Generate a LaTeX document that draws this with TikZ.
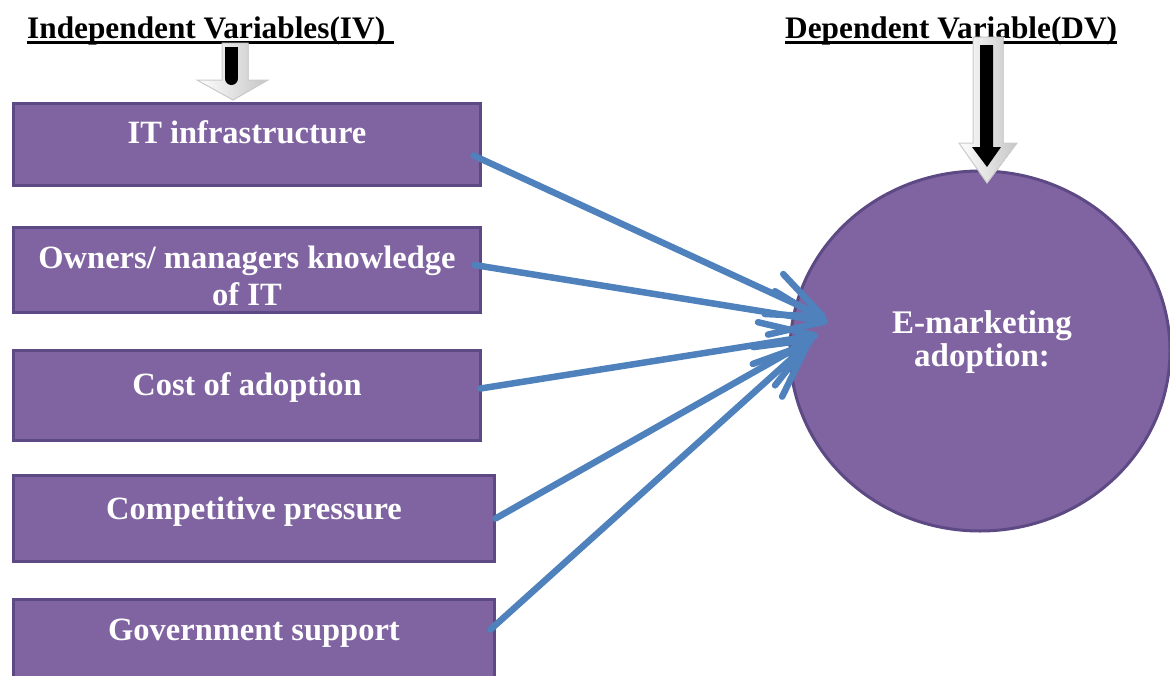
\documentclass[tikz,border=0pt]{standalone}
\usepackage{fontspec}
\setmainfont{Liberation Serif}
\usetikzlibrary{arrows.meta,shapes.geometric}
\definecolor{boxfill}{HTML}{8064A2}
\definecolor{boxline}{HTML}{5D4A84}
\definecolor{linkblue}{HTML}{4F81BD}

\begin{document}
\begin{tikzpicture}[
  x=1pt, y=-1pt,
  box/.style={rectangle, draw=boxline, fill=boxfill, line width=3pt, inner sep=0pt, outer sep=0pt, anchor=north west, align=center, text=white, font=\fontsize{32.5}{37}\selectfont\bfseries},
  dv/.style={ellipse, draw=boxline, fill=boxfill, line width=3pt, inner sep=0pt, minimum width=380pt, minimum height=360pt},
  dvtext/.style={align=center, text=white, font=\fontsize{33}{33}\selectfont\bfseries},
  title/.style={inner sep=0pt, anchor=base west, font=\fontsize{31.3}{36}\selectfont\bfseries},
  uline/.style={line width=3pt},
  link/.style={-{Straight Barb[length=54pt, width=44pt, round]}, draw=linkblue, line width=6.5pt, line cap=round},
  hollow/.style={left color=white, right color=gray!45, draw=gray!40, line width=1pt}
]
\path[use as bounding box] (0,0) rectangle (1170,675);
\clip (0,0) rectangle (1170,675);

% Headings
\node[title] (ivtitle) at (27,38) {Independent Variables(IV)};
\node[title] (dvtitle) at (785,38) {Dependent Variable(DV)};
\draw[uline] ([yshift=-4.5pt]ivtitle.base west) -- ([shift={(9pt,-4.5pt)}]ivtitle.base east);
\draw[uline] ([yshift=-4.5pt]dvtitle.base west) -- ([yshift=-4.5pt]dvtitle.base east);

% Independent variables
\node[box, minimum width=467pt, text height=39.5pt, text depth=42.5pt] (infra) at (13.5,103.5) {IT infrastructure};
\node[box, minimum width=467pt, text height=77.5pt, text depth=7.5pt] (owners) at (13.5,227.5) {Owners/ managers knowledge\\of IT};
\node[box, minimum width=467pt, text height=44.5pt, text depth=45.5pt] (cost) at (13.5,350.5) {Cost of adoption};
\node[box, minimum width=481pt, text height=43.5pt, text depth=42.5pt] (compete) at (13.5,475.5) {Competitive pressure};
\node[box, minimum width=481pt, text height=40.5pt, text depth=60pt] (gov) at (13.5,599.5) {Government support};

% Dependent variable
\node[dv] (adopt) at (980,351) {};
\node[dvtext] (adopttext) at ([shift={(2pt,9pt)}]adopt.center) {E-marketing\\adoption:};

% Arrow ends
\coordinate (tipA) at (826,318);
\coordinate (tipB) at (828,322);
\coordinate (tipC) at (818,335);
\coordinate (tipD) at (814,338);
\coordinate (tipE) at (810,342);

% Links
\draw[link] ([shift={(-7pt,-11pt)}]infra.east) -- (tipA);
\draw[link] ([shift={(-6pt,5pt)}]owners.east) -- (tipB);
\draw[link] ([yshift=7pt]cost.east) -- (tipC);
\draw[link] ([xshift=1pt]compete.east) -- (tipD);
\draw[link] ([shift={(-4pt,-30pt)}]gov.north east) -- (tipE);

% Block arrows under the headings
\filldraw[hollow] (222,43) -- (248,43) -- (248,80) -- (268,80) -- (233,100) -- (197,80) -- (222,80) -- cycle;
\fill (225,47) rectangle (238,60);
\draw[line width=13pt, line cap=round] (231.5,55) -- (231.5,78.5);
\filldraw[hollow] (973,37) -- (1003,37) -- (1003,143) -- (1017,143) -- (987,183) -- (959,143) -- (973,143) -- cycle;
\fill (980,45) -- (993,45) -- (993,147) -- (1001,147) -- (987,167) -- (972,147) -- (980,147) -- cycle;
\end{tikzpicture}
\end{document}
